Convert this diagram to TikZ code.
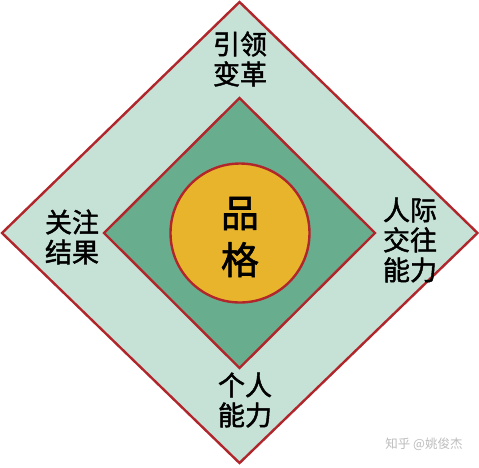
\documentclass[tikz,border=0pt]{standalone}
\usepackage{fontspec}
\newfontfamily\cjk[FakeBold=1.6]{Noto Sans CJK SC}
\newfontfamily\cjkwm{Noto Sans CJK SC}
\definecolor{outerfill}{HTML}{C6E1D6}
\definecolor{innerfill}{HTML}{68AE8E}
\definecolor{circfill}{HTML}{E8B42C}
\definecolor{edgered}{HTML}{B0262B}
\definecolor{wmgray}{HTML}{BDBDBD}
\tikzset{
  shapeedge/.style={draw=edgered, line width=2.4pt, line join=miter},
  lbl/.style={font=\cjk\fontsize{27}{30}\selectfont, align=center, text=black, inner sep=0pt},
  biglbl/.style={font=\cjk\fontsize{38}{47}\selectfont, align=center, text=black, inner sep=0pt},
}
\begin{document}
\begin{tikzpicture}[x=1pt,y=-1pt]
\useasboundingbox (0,0) rectangle (479,467);
\fill[white] (0,0) rectangle (479,467);
% outer diamond
\draw[shapeedge, fill=outerfill] (239.5,2) -- (477.5,233) -- (239.5,463) -- (2,233) -- cycle;
% inner diamond
\draw[shapeedge, fill=innerfill] (239.5,98) -- (375,233) -- (239.5,368) -- (104,233) -- cycle;
% circle
\draw[shapeedge, fill=circfill] (240,233) circle (69.5);
% labels
\node[lbl] (top) at (240,59) {引领\\变革};
\node[lbl] (left) at (72,237) {关注\\结果};
\node[lbl] (right) at (410,240) {人际\\交往\\能力};
\node[lbl] (bottom) at (245,400) {个人\\能力};
\node[biglbl] (center) at (240,237) {品\\格};
\node[font=\cjkwm\fontsize{12.5}{14}\selectfont, text=wmgray, inner sep=0pt] (wm) at (424,444) {知乎 @姚俊杰};
\end{tikzpicture}
\end{document}
